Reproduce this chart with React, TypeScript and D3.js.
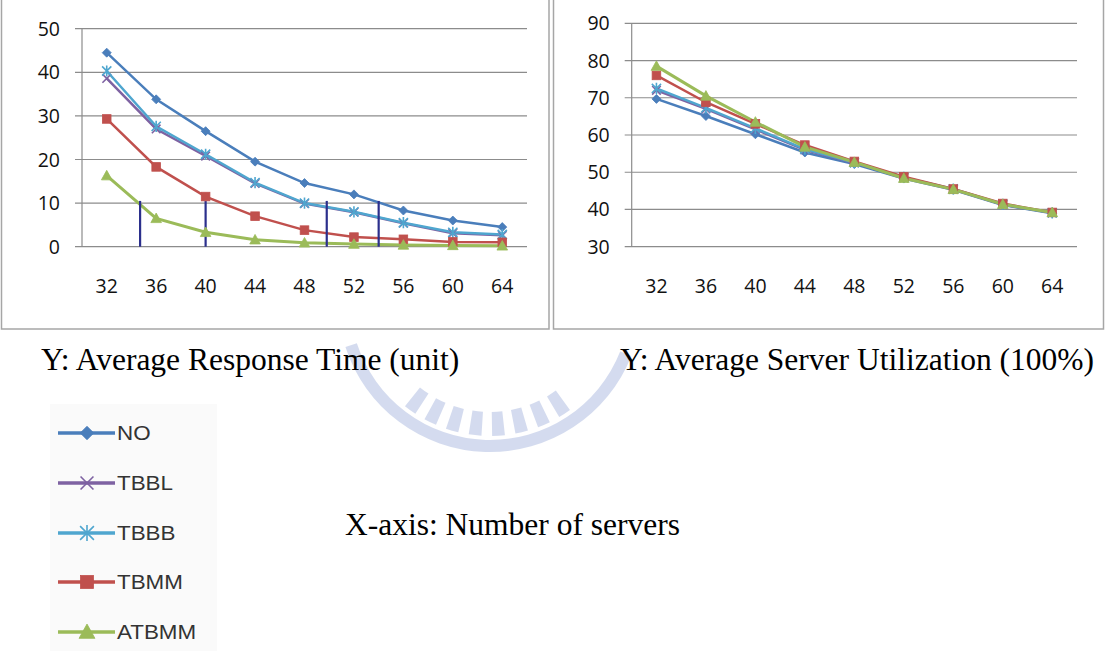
import React from "react";
import * as d3 from "d3";

const categories = [32, 36, 40, 44, 48, 52, 56, 60, 64];
const seriesNames = ["NO", "TBBL", "TBBB", "TBMM", "ATBMM"];
const seriesColors = ["#4a7ebb", "#7e62a2", "#4fa6cf", "#c0504d", "#9bbb59"];
const seriesMarkers = ["diamond", "x", "star", "square", "triangle"];

const respNO = [44.5, 33.8, 26.5, 19.5, 14.6, 12.0, 8.3, 6.0, 4.5];
const respTBBL = [38.6, 27.0, 20.8, 14.5, 9.9, 7.9, 5.4, 3.1, 2.6];
const respTBBB = [40.3, 27.6, 21.2, 14.7, 10.0, 8.0, 5.5, 3.3, 2.8];
const respTBMM = [29.3, 18.3, 11.5, 7.0, 3.8, 2.2, 1.7, 1.1, 1.0];
const respATBMM = [16.3, 6.5, 3.3, 1.6, 0.9, 0.6, 0.4, 0.3, 0.2];

const utilNO = [69.7, 65.1, 60.2, 55.3, 52.2, 48.3, 45.3, 41.2, 39.0];
const utilTBBL = [72.0, 67.0, 61.5, 56.0, 52.5, 48.5, 45.4, 41.3, 39.1];
const utilTBBB = [72.5, 67.3, 61.8, 56.2, 52.6, 48.6, 45.5, 41.4, 39.1];
const utilTBMM = [76.0, 68.8, 63.0, 57.3, 52.9, 48.8, 45.5, 41.6, 39.2];
const utilATBMM = [78.5, 70.5, 63.5, 56.8, 52.7, 48.4, 45.4, 41.4, 39.2];

const respTicks = [0, 10, 20, 30, 40, 50];
const utilTicks = [30, 40, 50, 60, 70, 80, 90];

// vertical dark lines in the left chart (x in category units, top value)
const markLinesX = [34.7, 40, 49.8, 54];
const markLinesTop = [10.5, 10.5, 10.5, 10.5];

const respSeries = [respNO, respTBBL, respTBBB, respTBMM, respATBMM];
const utilSeries = [utilNO, utilTBBL, utilTBBB, utilTBMM, utilATBMM];

function Marker({ kind, x, y, color, k = 1 }: { kind: string; x: number; y: number; color: string; k?: number }) {
  if (kind === "diamond") {
    const s = 4.5 * k;
    return <path d={`M${x},${y - s}L${x + s},${y}L${x},${y + s}L${x - s},${y}Z`} fill={color} stroke={color} strokeWidth={0.8} />;
  }
  if (kind === "square") {
    const s = 4.3 * k;
    return <rect x={x - s} y={y - s} width={2 * s} height={2 * s} fill={color} stroke={color} strokeWidth={0.8} />;
  }
  if (kind === "triangle") {
    const s = 5.3 * k;
    return <path d={`M${x},${y - s}L${x + s},${y + s * 0.8}L${x - s},${y + s * 0.8}Z`} fill={color} stroke={color} strokeWidth={0.8} />;
  }
  if (kind === "x") {
    const s = 4.3 * k;
    return <path d={`M${x - s},${y - s}L${x + s},${y + s}M${x - s},${y + s}L${x + s},${y - s}`} stroke={color} strokeWidth={1.6} fill="none" />;
  }
  const s = 4.6 * k;
  return (
    <path
      d={`M${x - s},${y - s}L${x + s},${y + s}M${x - s},${y + s}L${x + s},${y - s}M${x},${y - s - 1}L${x},${y + s + 1}`}
      stroke={color}
      strokeWidth={1.6}
      fill="none"
    />
  );
}

function Chart({
  left,
  right,
  top,
  bottom,
  domain,
  ticks,
  series,
  extra,
}: {
  left: number;
  right: number;
  top: number;
  bottom: number;
  domain: [number, number];
  ticks: number[];
  series: number[][];
  extra?: boolean;
}) {
  const x = d3.scaleBand<number>().domain(categories).range([left, right]);
  const cx = (c: number) => (x(c) as number) + x.bandwidth() / 2;
  const y = d3.scaleLinear().domain(domain).range([bottom, top]);
  const step = x.bandwidth();
  const xLin = (v: number) => cx(categories[0]) + ((v - categories[0]) / 4) * step;
  const line = d3
    .line<number>()
    .x((_, i) => cx(categories[i]))
    .y((d) => y(d));
  const font = "'Open Sans', 'Liberation Sans', sans-serif";
  return (
    <g>
      {ticks.map((t) => (
        <g key={t}>
          <line x1={left - 7} x2={right} y1={y(t)} y2={y(t)} stroke="#8c8c8c" strokeWidth={1.2} />
          <text x={left - 22} y={y(t)} dy="0.36em" textAnchor="end" fontFamily={font} fontSize={19.5} fill="#111">
            {t}
          </text>
        </g>
      ))}
      <line x1={left} x2={left} y1={top} y2={bottom} stroke="#8c8c8c" strokeWidth={1.2} />
      {categories.map((c) => (
        <text key={c} x={cx(c)} y={bottom + 39} dy="0.36em" textAnchor="middle" fontFamily={font} fontSize={19.5} fill="#111">
          {c}
        </text>
      ))}
      {series.map((s, i) => (
        <path key={i} d={line(s) as string} fill="none" stroke={seriesColors[i]} strokeWidth={i === 4 ? 3 : 2.5} />
      ))}
      {extra &&
        markLinesX.map((v, i) => (
          <line key={i} x1={xLin(v)} x2={xLin(v)} y1={y(0)} y2={y(markLinesTop[i])} stroke="#2b2f8c" strokeWidth={2.2} />
        ))}
      {series.map((s, i) =>
        s.map((v, j) => <Marker key={`${i}-${j}`} kind={seriesMarkers[i]} x={cx(categories[j])} y={y(v)} color={seriesColors[i]} />)
      )}
    </g>
  );
}

function Watermark() {
  const cx = 490;
  const cy = 300;
  const arc = d3.arc<any>();
  const band = arc({ innerRadius: 140, outerRadius: 152, startAngle: Math.PI * 0.62, endAngle: Math.PI * 1.4 }) as string;
  const teeth = d3.range(0.8, 1.24, 0.055).map((a) => ({ a }));
  return (
    <g transform={`translate(${cx},${cy})`} opacity={0.33}>
      <path d={band} fill="#7f95cf" />
      {teeth.map((t, i) => {
        const p = arc({ innerRadius: 112, outerRadius: 136, startAngle: Math.PI * t.a, endAngle: Math.PI * (t.a + 0.03) }) as string;
        return <path key={i} d={p} fill="#7f95cf" />;
      })}
    </g>
  );
}

export default function App() {
  const legendFont = "'Liberation Sans', Arial, sans-serif";
  const serif = "'Liberation Serif', 'Times New Roman', serif";
  return (
    <svg width={1106} height={651} style={{ position: "absolute", left: 0, top: 0, background: "#fff" }}>
      <rect x={0} y={0} width={1106} height={651} fill="#fff" />
      <Watermark />
      <rect x={0} y={329} width={1106} height={2} fill="#fff" />
      {/* panel borders */}
      <rect x={1.5} y={-4} width={547.5} height={333} fill="#fff" stroke="#a6a6a6" strokeWidth={1.5} />
      <rect x={553.5} y={-4} width={550} height={333} fill="#fff" stroke="#a6a6a6" strokeWidth={1.5} />
      <Chart left={82} right={527} top={28.7} bottom={246.7} domain={[0, 50]} ticks={respTicks} series={respSeries} extra />
      <Chart left={631.7} right={1077} top={23.3} bottom={246.7} domain={[30, 90]} ticks={utilTicks} series={utilSeries} />
      <text x={41} y={370} fontFamily={serif} fontSize={31.5} fill="#000">
        Y: Average Response Time (unit)
      </text>
      <text x={1094} y={370} textAnchor="end" fontFamily={serif} fontSize={31.5} fill="#000">
        Y: Average Server Utilization (100%)
      </text>
      <text x={345} y={535} fontFamily={serif} fontSize={31.5} fill="#000">
        X-axis: Number of servers
      </text>
      <rect x={50} y={404} width={167} height={247} fill="#fafafa" />
      {seriesNames.map((n, i) => {
        const yy = [433, 483, 533, 582, 632][i];
        return (
          <g key={n}>
            <line x1={58} x2={115} y1={yy} y2={yy} stroke={seriesColors[i]} strokeWidth={3.5} />
            <Marker kind={seriesMarkers[i]} x={87} y={yy} color={seriesColors[i]} k={1.5} />
            <text transform={`translate(117,${yy}) scale(1.12,1)`} dy="0.36em" fontFamily={legendFont} fontSize={20} fill="#333">
              {n}
            </text>
          </g>
        );
      })}
    </svg>
  );
}
